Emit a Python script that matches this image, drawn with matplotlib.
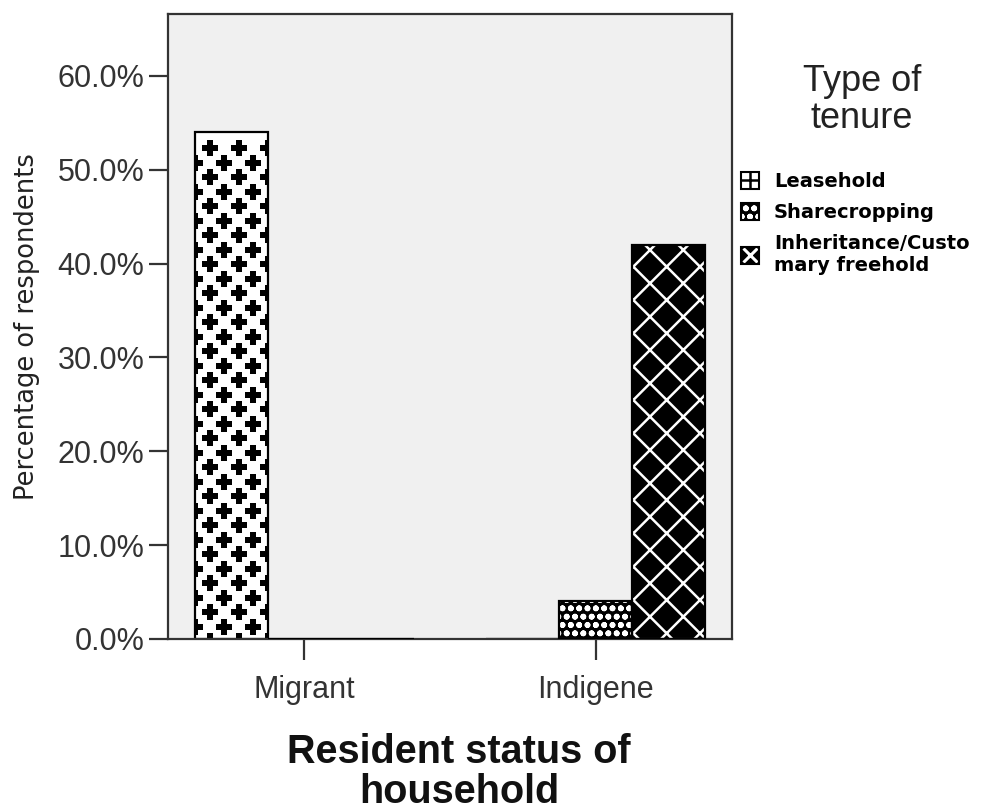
import matplotlib
matplotlib.use("Agg")
import matplotlib.pyplot as plt
import numpy as np
from matplotlib.patches import Patch
from matplotlib.lines import Line2D
from matplotlib.legend_handler import HandlerTuple

# data
groups = ["Migrant", "Indigene"]
tenure_labels = ["Leasehold", "Sharecropping", "Inheritance/Custo\nmary freehold"]
leasehold = [54.0, 0.0]
sharecropping = [0.0, 4.0]
inheritance = [0.0, 42.0]
y_ticks = [0, 10, 20, 30, 40, 50, 60]

plt.rcParams["hatch.linewidth"] = 1.8
TICK_FONT = "Liberation Sans"

fig = plt.figure(figsize=(9.85, 8.10), dpi=100)
ax = fig.add_axes([168 / 985, 1 - 639 / 810, (732 - 168) / 985, (639 - 14) / 810])
ax.set_facecolor("#f0f0f0")

x = np.arange(len(groups))
width = 0.25

ax.set_xlim(-0.467, 1.467)
ax.set_ylim(0, 66.6)

# leasehold: white bars, plus pattern added below
lease_bars = ax.bar(x - width, leasehold, width, facecolor="white",
                    edgecolor="black", linewidth=1.6, zorder=2)
# sharecropping: black with white dots
ax.bar(x, sharecropping, width, facecolor="black", edgecolor="white",
       hatch="oo", linewidth=0, zorder=2)
ax.bar(x, sharecropping, width, facecolor="none", edgecolor="black",
       linewidth=1.6, zorder=3)
# inheritance: black with white diagonal crosses
ax.bar(x + width, inheritance, width, facecolor="black", edgecolor="white",
       hatch="x", linewidth=0, zorder=2)
ax.bar(x + width, inheritance, width, facecolor="none", edgecolor="black",
       linewidth=1.6, zorder=3)

# plus-sign texture for the leasehold bars (staggered grid in pixel space)
inv = ax.transData.inverted()
for bar in lease_bars:
    if bar.get_height() <= 0:
        continue
    (px0, py0) = ax.transData.transform((bar.get_x(), 0))
    (px1, py1) = ax.transData.transform((bar.get_x() + bar.get_width(), bar.get_height()))
    pts = []
    row = 0
    py = py1 - 16
    while py > py0 - 10:
        px = px0 + 15 - 29 + (14.5 if row % 2 else 0)
        while px < px1 + 10:
            pts.append((px, py))
            px += 29
        py -= 14.5
        row += 1
    pts = inv.transform(np.array(pts))
    sc = ax.scatter(pts[:, 0], pts[:, 1], marker="P", s=120, color="black",
                    linewidths=0, zorder=2.5)
    sc.set_clip_path(bar)

for side in ax.spines.values():
    side.set_color("#333333")
    side.set_linewidth(1.6)

ax.set_yticks(y_ticks)
ax.set_yticklabels([f"{v:.1f}%" for v in y_ticks], fontsize=22, family=TICK_FONT,
                   color="#333333")
ax.set_xticks(x)
ax.set_xticklabels(groups, fontsize=22, family=TICK_FONT, color="#333333")
ax.tick_params(axis="y", length=14, width=1.6, color="#333333", pad=3)
ax.tick_params(axis="x", length=15, width=1.6, color="#333333", pad=11)

fig.text(27 / 985, 1 - 327 / 810, "Percentage of respondents", rotation=90,
         ha="center", va="center", fontsize=18.5, color="#222222")
fig.text(459 / 985, 1 - 772 / 810, "Resident status of\nhousehold", ha="center",
         va="center", fontsize=28.5, fontweight="bold", family=TICK_FONT,
         linespacing=1.05, color="#111111")
fig.text(862 / 985, 1 - 100 / 810, "Type of\ntenure", ha="center", va="center",
         fontsize=26, family=TICK_FONT, linespacing=1.1, color="#222222")

border = dict(facecolor="none", edgecolor="black", linewidth=1.5)
handles = [
    (Patch(facecolor="white", edgecolor="none"),
     Line2D([], [], marker="+", color="black", linestyle="none",
            markersize=13, markeredgewidth=1.8),
     Patch(**border)),
    (Patch(facecolor="black", edgecolor="white", hatch="oo", linewidth=0),
     Patch(**border)),
    (Patch(facecolor="black", edgecolor="none"),
     Line2D([], [], marker="x", color="white", linestyle="none",
            markersize=10, markeredgewidth=2.2),
     Patch(**border)),
]
fig.legend(handles, tenure_labels, handler_map={tuple: HandlerTuple(ndivide=1)},
           loc="upper left", bbox_to_anchor=(741 / 985, 1 - 172 / 810),
           frameon=False, prop={"size": 14, "weight": "bold"},
           handlelength=0.95, handleheight=0.95, handletextpad=0.75,
           labelspacing=0.62, borderpad=0, borderaxespad=0)

fig.savefig("out.png", dpi=100)
